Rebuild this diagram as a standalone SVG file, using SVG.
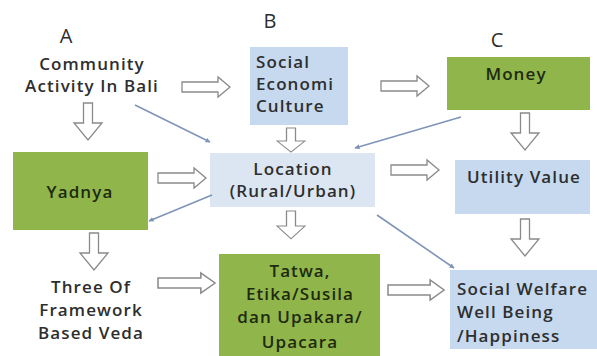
<svg xmlns="http://www.w3.org/2000/svg" width="597" height="356" viewBox="0 0 597 356">
<style>
text{font-family:"Open Sans","Noto Sans",sans-serif;font-size:17px;font-weight:600;letter-spacing:1.1px;fill:#2e2e2e}
.lab{font-size:20px;font-weight:400;letter-spacing:0}
.c{text-anchor:middle}
.g{fill:#90b64b}
.b{fill:#c6d9ef}
.l{fill:#dce6f2}
.gt{fill:#1e2a0e}
.ba{fill:#fff;stroke:#8a8a8a;stroke-width:1.3;stroke-linejoin:miter}
.ln{stroke:#7f95b8;stroke-width:1.6;fill:none;marker-end:url(#ah)}
</style>
<defs>
<marker id="ah" viewBox="0 0 10 10" refX="9" refY="5" markerWidth="5" markerHeight="5" orient="auto" markerUnits="userSpaceOnUse">
<path d="M0,0 L10,5 L0,10 z" fill="#7f95b8"/>
</marker>
<path id="ar" d="M0,-5 H36 V-10 L48,0 L36,10 V5 H0 Z"/>
<path id="dn" d="M-4.5,0 H4.5 V20 H14 L0,37 L-14,20 H-4.5 Z"/>
</defs>
<rect width="597" height="356" fill="#fff"/>

<g id="labelA"><text class="lab" x="66" y="43" text-anchor="middle">A</text></g>
<g id="labelB"><text class="lab" x="270" y="28" text-anchor="middle">B</text></g>
<g id="labelC"><text class="lab" x="497" y="47" text-anchor="middle">C</text></g>

<g id="community">
<text class="c" x="92" y="70">Community</text>
<text class="c" x="92" y="92">Activity In Bali</text>
</g>

<g id="social-economi">
<rect class="b" x="250" y="47" width="98" height="78"/>
<text x="256" y="68">Social</text>
<text x="256" y="90">Economi</text>
<text x="256" y="112">Culture</text>
</g>

<g id="money">
<rect class="g" x="447" y="57" width="143" height="53"/>
<text class="c gt" x="516" y="80">Money</text>
</g>

<g id="yadnya">
<rect class="g" x="13" y="152" width="135" height="78"/>
<text class="c gt" x="80" y="198">Yadnya</text>
</g>

<g id="location">
<rect class="l" x="210" y="153" width="165" height="54"/>
<text class="c" x="293" y="175">Location</text>
<text class="c" x="293" y="197">(Rural/Urban)</text>
</g>

<g id="utility">
<rect class="b" x="455" y="160" width="135" height="54"/>
<text class="c" x="524" y="183">Utility Value</text>
</g>

<g id="three">
<text class="c" x="91" y="293">Three  Of</text>
<text class="c" x="91" y="316">Framework</text>
<text class="c" x="91" y="339">Based  Veda</text>
</g>

<g id="tatwa">
<rect class="g" x="219" y="254" width="161" height="102"/>
<text class="c gt" x="300" y="277">Tatwa,</text>
<text class="c gt" x="300" y="300">Etika/Susila</text>
<text class="c gt" x="300" y="323">dan Upakara/</text>
<text class="c gt" x="300" y="348">Upacara</text>
</g>

<g id="welfare">
<rect class="b" x="450" y="270" width="147" height="79"/>
<text x="457" y="295">Social Welfare</text>
<text x="457" y="318">Well Being</text>
<text x="457" y="342">/Happiness</text>
</g>

<g id="connectors">
<use href="#ar" class="ba" transform="translate(182,87)"/>
<use href="#ar" class="ba" transform="translate(381,86)"/>
<use href="#ar" class="ba" transform="translate(158,178)"/>
<use href="#ar" class="ba" transform="translate(391,170)"/>
<use href="#ar" class="ba" transform="translate(158,283) scale(1.19,1)"/>
<use href="#ar" class="ba" transform="translate(388,290) scale(1.17,1)"/>
<use href="#dn" class="ba" transform="translate(88,103)"/>
<use href="#dn" class="ba" transform="translate(291,128) scale(1,0.65)"/>
<use href="#dn" class="ba" transform="translate(525,113)"/>
<use href="#dn" class="ba" transform="translate(291,211) scale(1,0.75)"/>
<use href="#dn" class="ba" transform="translate(94,233)"/>
<use href="#dn" class="ba" transform="translate(525,219)"/>
<line class="ln" x1="135" y1="105" x2="210" y2="142"/>
<line class="ln" x1="461" y1="117" x2="355" y2="148"/>
<line class="ln" x1="212" y1="195" x2="149" y2="221"/>
<line class="ln" x1="377" y1="215" x2="454" y2="268"/>
</g>
</svg>
